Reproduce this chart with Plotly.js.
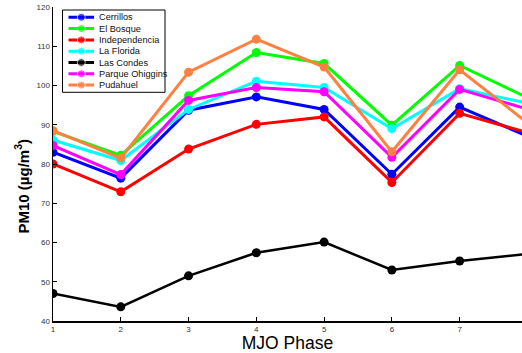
<!DOCTYPE html>
<html>
<head>
<meta charset="utf-8">
<script src="https://cdn.plot.ly/plotly-3.0.1.min.js"></script>
<style>html,body{margin:0;padding:0;background:#fff}#chart{width:522px;height:353px}</style>
</head>
<body>
<div id="chart"></div>
<script>
const phases = [1, 2, 3, 4, 5, 6, 7, 8];
const seriesNames = ["Cerrillos", "El Bosque", "Independencia", "La Florida", "Las Condes", "Parque Ohiggins", "Pudahuel"];
const cerrillos      = [83.0, 76.4, 93.7, 97.1, 93.9, 77.4, 94.5, 87.1];
const elBosque       = [88.3, 82.2, 97.4, 108.4, 105.6, 89.9, 105.1, 96.9];
const independencia  = [80.0, 72.9, 83.8, 90.1, 92.0, 75.3, 92.9, 88.0];
const laFlorida      = [86.1, 80.9, 93.9, 101.1, 99.5, 89.0, 99.2, 95.5];
const lasCondes      = [47.0, 43.6, 51.5, 57.4, 60.1, 53.0, 55.3, 57.1];
const parqueOhiggins = [84.7, 77.3, 96.2, 99.5, 98.4, 81.7, 99.0, 94.0];
const pudahuel       = [88.5, 81.5, 103.4, 111.8, 104.7, 83.1, 104.0, 90.5];
const yTicks = [40, 50, 60, 70, 80, 90, 100, 110, 120];
const xTicks = [1, 2, 3, 4, 5, 6, 7];

const seriesValues = [cerrillos, elBosque, independencia, laFlorida, lasCondes, parqueOhiggins, pudahuel];
const colors = ["#0000ff", "#00ff00", "#ff0000", "#00ffff", "#000000", "#ff00ff", "#ff8040"];

const traces = seriesValues.map((v, i) => ({
  x: phases, y: v, type: "scatter", mode: "lines+markers", name: seriesNames[i],
  line: {color: colors[i], width: i === 4 ? 2.5 : 3},
  marker: {color: colors[i], size: 9},
  showlegend: false, cliponaxis: true
}));

// compact legend drawn on a hidden overlay axis pair
const legendTraces = seriesNames.map((n, i) => ({
  x: [0, 0.5, 1], y: [i, i, i], xaxis: "x2", yaxis: "y2", type: "scatter", mode: "lines+markers",
  line: {color: colors[i], width: 3}, marker: {color: colors[i], size: [0, 8, 0]},
  showlegend: false, hoverinfo: "skip"
}));

const W = 522, H = 353, mL = 53, mR = 0, mT = 7, mB = 32;
const pw = W - mL - mR, ph = H - mT - mB;
const px2x = p => (p - mL) / pw;
const py2y = p => 1 - (p - mT) / ph;
const legTop = 17.3, legStep = 11.3;

const annotations = seriesNames.map((n, i) => ({
  xref: "paper", yref: "paper", x: px2x(97), y: py2y(legTop + i * legStep),
  text: n, showarrow: false, xanchor: "left", yanchor: "middle",
  font: {family: "Liberation Sans, Arial, sans-serif", size: 9.2, color: "#111"}
}));
annotations.push({
  xref: "paper", yref: "paper", x: px2x(21.5), y: py2y(186),
  text: "<b>PM10 (µg/m<sup>3</sup>)</b>", showarrow: false, textangle: -90,
  xanchor: "center", yanchor: "middle",
  font: {family: "Liberation Sans, Arial, sans-serif", size: 15, color: "#000"}
});

const layout = {
  width: W, height: H,
  margin: {l: mL, r: mR, t: mT, b: mB, pad: 0},
  paper_bgcolor: "#fff", plot_bgcolor: "#fff",
  showlegend: false,
  font: {family: "Liberation Sans, Arial, sans-serif", color: "#333"},
  xaxis: {
    range: [1, 7.92], tickvals: xTicks, ticktext: xTicks.map(String),
    ticks: "inside", ticklen: 4, tickcolor: "#000", tickwidth: 1,
    showline: true, linecolor: "#000", linewidth: 1.5, showgrid: false, zeroline: false,
    tickfont: {size: 8, color: "#333"},
    title: {text: "MJO Phase", font: {size: 17.5, color: "#000"}, standoff: 3}
  },
  yaxis: {
    range: [40, 120], tickvals: yTicks, ticktext: yTicks.map(String),
    ticks: "inside", ticklen: 4, tickcolor: "#000", tickwidth: 1,
    showline: true, linecolor: "#000", linewidth: 1.5, showgrid: false, zeroline: false,
    tickfont: {size: 8, color: "#333"}
  },
  xaxis2: {domain: [px2x(68.3), px2x(94.3)], range: [0, 1], visible: false, fixedrange: true, anchor: "y2"},
  yaxis2: {domain: [py2y(legTop + 6 * legStep + legStep / 2), py2y(legTop - legStep / 2)], range: [6.5, -0.5], visible: false, fixedrange: true, anchor: "x2"},
  shapes: [{
    type: "rect", xref: "paper", yref: "paper",
    x0: px2x(62.5), x1: px2x(165), y0: py2y(92.3), y1: py2y(10),
    line: {color: "#000", width: 1}, fillcolor: "#fff", layer: "below"
  }],
  annotations: annotations
};

Plotly.newPlot("chart", traces.concat(legendTraces), layout, {displayModeBar: false, staticPlot: true});
</script>
</body>
</html>
